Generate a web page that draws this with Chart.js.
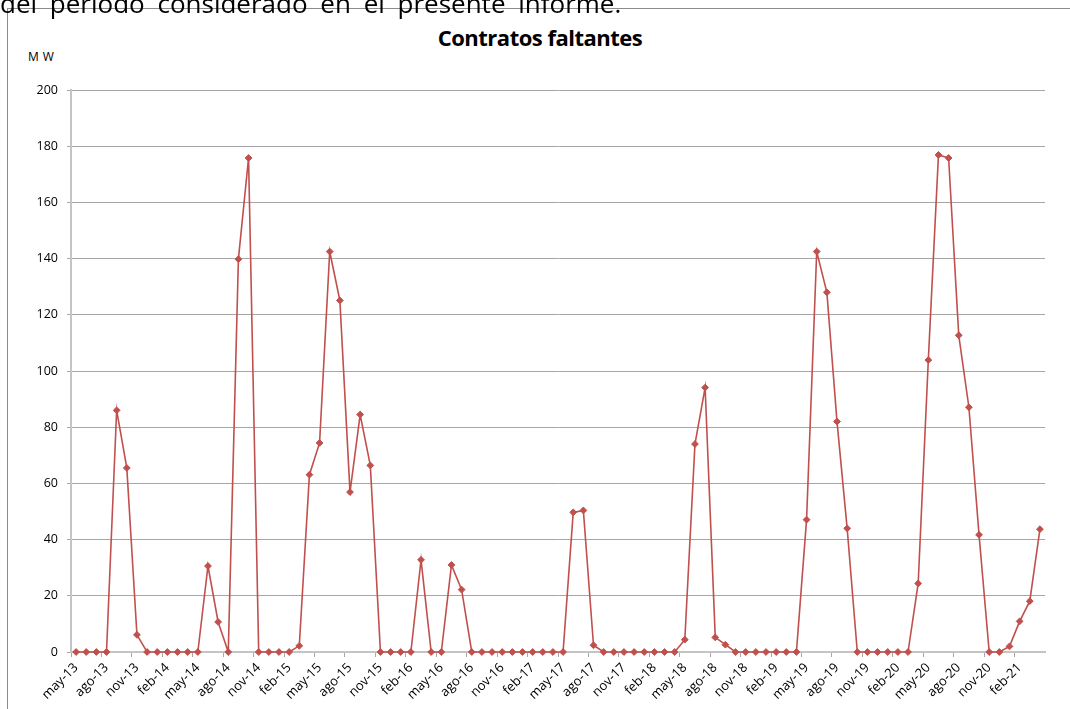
<!DOCTYPE html>
<html>
<head>
<meta charset="utf-8">
<script src="https://cdn.jsdelivr.net/npm/chart.js@4.4.0/dist/chart.umd.min.js"></script>
<style>
  html, body { margin:0; padding:0; background:#fff; width:1070px; height:709px; overflow:hidden; }
  #topline { position:absolute; left:0; top:-15px; font-family:"Open Sans", sans-serif; font-size:26px; color:#000; white-space:nowrap; word-spacing:6px; z-index:3; }
  #frame { position:absolute; left:7px; top:8px; width:1080px; height:720px; border-left:1px solid #8c8c8c; border-top:1px solid #8c8c8c; }
  #title { position:absolute; left:0; width:1080px; top:22px; text-align:center; font-family:"Open Sans", sans-serif; font-weight:bold; font-size:22px; letter-spacing:-0.5px; color:#000; }
  #unit { position:absolute; left:28px; top:48px; font-family:"Open Sans", sans-serif; font-size:12px; letter-spacing:4px; color:#000; }
  #wrap { position:absolute; left:0; top:0; width:1070px; height:709px; }
</style>
</head>
<body>
<div id="frame"></div>
<div id="title">Contratos faltantes</div>
<div id="unit">MW</div>
<div id="wrap"><canvas id="c" width="1070" height="709"></canvas></div>
<div id="topline">del período considerado en el presente informe.</div>
<script>
const monthNames = ['ene','feb','mar','abr','may','jun','jul','ago','sep','oct','nov','dic'];
const startYear = 2013, startMonth = 4, monthCount = 96;
const categories = [];
for (let i = 0; i < monthCount; i++) {
  const m = (startMonth + i) % 12;
  const y = startYear + Math.floor((startMonth + i) / 12);
  categories.push(monthNames[m] + '-' + String(y).slice(2));
}
const contratosFaltantes = [
  0, 0, 0, 0, 86, 65.5, 6.1, 0, 0, 0, 0, 0, 0, 30.6, 10.7, 0,
  139.8, 175.8, 0, 0, 0, 0, 2.2, 63.1, 74.4, 142.5, 125.1, 56.9, 84.5, 66.4, 0, 0,
  0, 0, 32.8, 0, 0, 31.0, 22.2, 0, 0, 0, 0, 0, 0, 0, 0, 0,
  0, 49.7, 50.4, 2.4, 0, 0, 0, 0, 0, 0, 0, 0, 4.4, 74.0, 94.1, 5.2,
  2.6, 0, 0, 0, 0, 0, 0, 0, 47.1, 142.5, 128.0, 82.0, 44.0, 0, 0, 0,
  0, 0, 0, 24.4, 103.9, 176.9, 175.8, 112.7, 87.1, 41.7, 0, 0, 2.0, 10.9, 18.1, 43.7
];
const yTicks = [0, 20, 40, 60, 80, 100, 120, 140, 160, 180, 200];

const red = '#C0504D';
new Chart(document.getElementById('c'), {
  type: 'line',
  data: {
    labels: categories,
    datasets: [{
      data: contratosFaltantes,
      borderColor: red,
      backgroundColor: red,
      borderWidth: 1.6,
      pointStyle: 'rectRot',
      pointRadius: 3.4,
      pointHoverRadius: 3.4,
      pointBackgroundColor: red,
      pointBorderColor: red,
      pointBorderWidth: 1,
      tension: 0,
      clip: false
    }]
  },
  options: {
    responsive: false,
    animation: false,
    events: [],
    layout: { padding: { left: 0, right: 25, top: 90, bottom: 0 } },
    plugins: { legend: { display: false }, title: { display: false }, tooltip: { enabled: false } },
    scales: {
      x: {
        type: 'category',
        offset: true,
        grid: {
          offset: true,
          drawOnChartArea: false,
          drawTicks: true,
          tickLength: 5,
          tickColor: (ctx) => (ctx.index % 3 === 0 ? '#a6a6a6' : 'rgba(0,0,0,0)'),
          color: (ctx) => (ctx.index % 3 === 0 ? '#a6a6a6' : 'rgba(0,0,0,0)')
        },
        border: { display: true, color: '#c4c4c4', width: 2 },
        ticks: {
          autoSkip: false,
          maxRotation: 45,
          minRotation: 45,
          padding: 3,
          color: '#000',
          font: { family: '"Open Sans", sans-serif', size: 13 },
          callback: function(value, index) { return index % 3 === 0 ? categories[index] : ''; }
        },
        afterFit: (scale) => { scale.height = 57; }
      },
      y: {
        min: 0,
        max: 200,
        afterBuildTicks: (scale) => { scale.ticks = yTicks.map(v => ({ value: v })); },
        grid: {
          color: '#a6a6a6',
          lineWidth: 1,
          tickLength: 4,
          tickColor: '#a6a6a6'
        },
        border: { display: true, color: '#c4c4c4', width: 2 },
        ticks: {
          padding: 9,
          color: '#000',
          font: { family: '"Open Sans", sans-serif', size: 12.5 }
        },
        afterFit: (scale) => { scale.width = 71; }
      }
    }
  }
});
</script>
</body>
</html>
